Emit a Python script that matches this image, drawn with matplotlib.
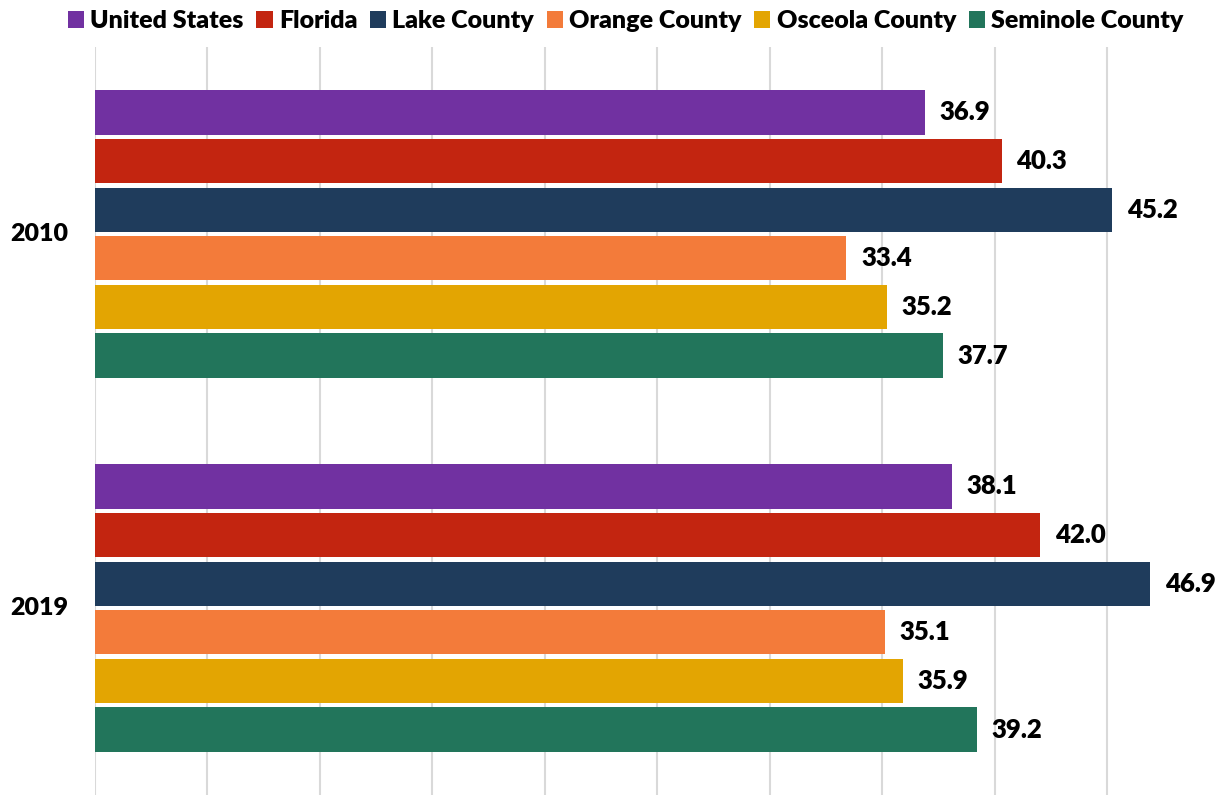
import matplotlib.pyplot as plt
import numpy as np

plt.rcParams['font.family'] = ['Lato', 'DejaVu Sans']

years = ['2010', '2019']
areas = ['United States', 'Florida', 'Lake County', 'Orange County', 'Osceola County', 'Seminole County']
colors = ['#7131A1', '#C32510', '#1F3C5C', '#F37B3A', '#E3A502', '#22755B']
median_age = {
    'United States': [36.9, 38.1],
    'Florida': [40.3, 42.0],
    'Lake County': [45.2, 46.9],
    'Orange County': [33.4, 35.1],
    'Osceola County': [35.2, 35.9],
    'Seminole County': [37.7, 39.2],
}

fig = plt.figure(figsize=(12.15, 7.95), dpi=100)
ax = fig.add_axes([95 / 1215, 0, 1120 / 1215, 748 / 795])

step = 0.13
hgt = 0.118
y = np.arange(len(years))
for i, name in enumerate(areas):
    pos = y - 2.5 * step + i * step
    vals = median_age[name]
    ax.barh(pos, vals, height=hgt, color=colors[i], label=name, zorder=3)
    for p, v in zip(pos, vals):
        ax.text(v + 0.65, p, '%.1f' % v, va='center', ha='left',
                fontsize=18.5, fontweight='heavy', color='black')

ax.set_xlim(0, 49.78)
ax.set_ylim(1.5, -0.5)
ax.set_xticks(np.arange(0, 50, 5))
ax.set_xticklabels([])
ax.grid(axis='x', color='#D9D9D9', linewidth=1.5, zorder=0)
ax.tick_params(length=0)
ax.set_yticks(y)
ax.set_yticklabels([])
for spine in ax.spines.values():
    spine.set_visible(False)

for yi, lab in zip(y, years):
    ax.text(-1.2, yi, lab, ha='right', va='center', fontsize=18,
            fontweight='heavy', transform=ax.transData, clip_on=False)

fig.legend(loc='center', bbox_to_anchor=(0.515, 1 - 21 / 795), ncol=6, frameon=False,
           handlelength=0.65, handleheight=0.65, handletextpad=0.25,
           columnspacing=0.5, prop={'size': 18, 'weight': 'heavy'})

fig.savefig('out.png', dpi=100)
